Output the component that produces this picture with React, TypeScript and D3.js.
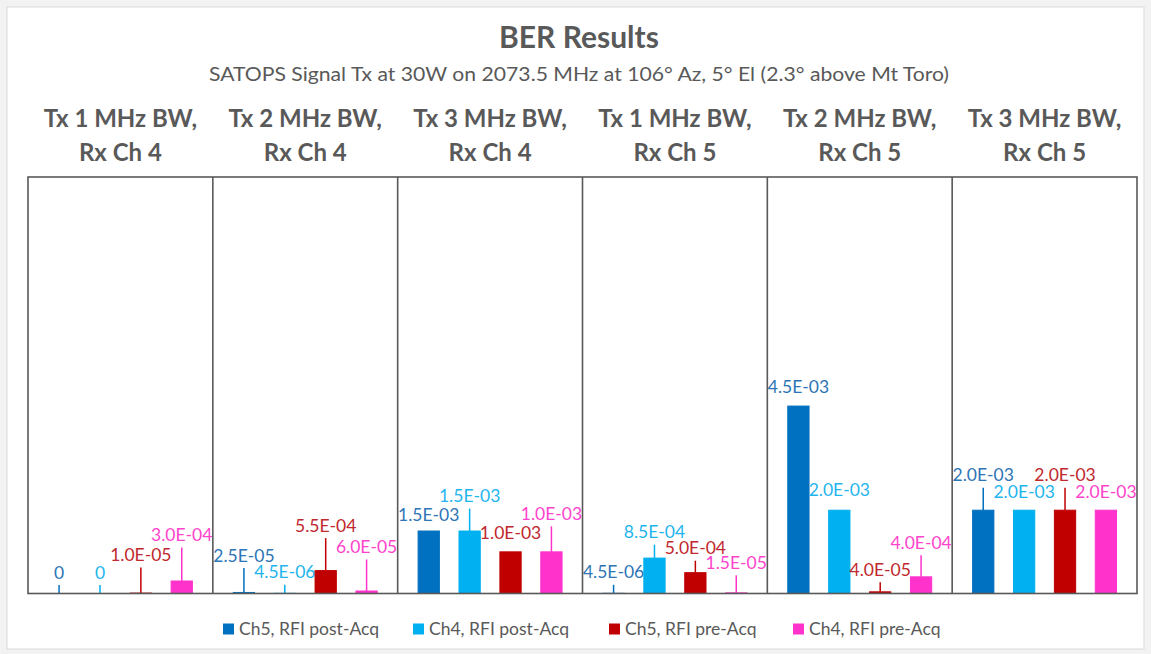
import React from "react";
import * as d3 from "d3";

const panels = [
  ["Tx 1 MHz BW,", "Rx Ch 4"],
  ["Tx 2 MHz BW,", "Rx Ch 4"],
  ["Tx 3 MHz BW,", "Rx Ch 4"],
  ["Tx 1 MHz BW,", "Rx Ch 5"],
  ["Tx 2 MHz BW,", "Rx Ch 5"],
  ["Tx 3 MHz BW,", "Rx Ch 5"],
];
const seriesNames = ["Ch5, RFI post-Acq", "Ch4, RFI post-Acq", "Ch5, RFI pre-Acq", "Ch4, RFI pre-Acq"];
const seriesColors = ["#0070C0", "#00B0F0", "#C00000", "#FF33CC"];
const labelColors = ["#2E75B6", "#1FB5EE", "#C0282D", "#FF44CC"];

// values per series, one entry per panel
const ch5Post = [0, 2.5e-5, 1.5e-3, 4.5e-6, 4.5e-3, 2.0e-3];
const ch4Post = [0, 4.5e-6, 1.5e-3, 8.5e-4, 2.0e-3, 2.0e-3];
const ch5Pre = [1.0e-5, 5.5e-4, 1.0e-3, 5.0e-4, 4.0e-5, 2.0e-3];
const ch4Pre = [3.0e-4, 6.0e-5, 1.0e-3, 1.5e-5, 4.0e-4, 2.0e-3];
const seriesValues = [ch5Post, ch4Post, ch5Pre, ch4Pre];

// label lift above bar top (px), per series per panel
const labelLift = [
  [21, 37, 16, 21, 19, 35],
  [21, 21, 35, 26, 20, 18],
  [38, 45, 19, 24.5, 22, 35],
  [46, 44, 38, 30, 34, 18],
];

const W = 1151;
const H = 654;
const plotL = 28, plotR = 1137, plotT = 177, plotB = 593.5;
const FONT = "Lato, 'Open Sans', sans-serif";

function fmt(v: number): string {
  if (v === 0) return "0";
  const e = Math.floor(Math.log10(v) + 1e-9);
  const m = v / Math.pow(10, e);
  const es = (e < 0 ? "-" : "+") + String(Math.abs(e)).padStart(2, "0");
  return m.toFixed(1) + "E" + es;
}

export default function App() {
  const xPanel = d3.scaleBand<number>().domain(d3.range(panels.length)).range([plotL, plotR]).padding(0);
  const xSeries = d3.scaleBand<number>().domain(d3.range(4)).range([0, xPanel.bandwidth()]).paddingInner(0.48).paddingOuter(0.5);
  const y = d3.scaleLinear().domain([0, 0.01]).range([plotB, plotT]);

  const legendX = [223, 413, 609, 793];

  return (
    <svg width={W} height={H} style={{ position: "absolute", left: 0, top: 0, background: "#fff" }} fontFamily={FONT}>
      <rect x={0} y={0} width={W} height={H} fill="#f2f2f2" />
      <rect x={7} y={7} width={1137} height={642} fill="#fff" stroke="#d9d9d9" strokeWidth={1} />
      <text x={579} y={48} textAnchor="middle" fontSize={30} fontWeight="bold" fill="#595959">BER Results</text>
      <text x={579} y={81} textAnchor="middle" fontSize={19.5} fill="#595959" textLength={740} lengthAdjust="spacingAndGlyphs">
        SATOPS Signal Tx at 30W on 2073.5 MHz at 106° Az, 5° El (2.3° above Mt Toro)
      </text>
      {panels.map((p, i) => {
        const cx = (xPanel(i) as number) + xPanel.bandwidth() / 2;
        return (
          <g key={"h" + i}>
            <text x={cx} y={127} textAnchor="middle" fontSize={24} fontWeight="bold" fill="#595959">{p[0]}</text>
            <text x={cx} y={161} textAnchor="middle" fontSize={24} fontWeight="bold" fill="#595959">{p[1]}</text>
          </g>
        );
      })}
      {/* bars */}
      {panels.map((_, i) => (
        <g key={"p" + i} transform={`translate(${xPanel(i)},0)`}>
          {seriesValues.map((vals, s) => {
            const v = vals[i];
            const bx = xSeries(s) as number;
            const bw = xSeries.bandwidth();
            const top = y(v);
            const cx = bx + bw / 2;
            const lift = labelLift[s][i];
            const labelY = top - lift;
            const leaderTop = labelY + 12.5;
            return (
              <g key={s}>
                {v > 0 && (
                  <rect x={bx} y={top} width={bw} height={plotB - top} fill={seriesColors[s]} stroke={seriesColors[s]} strokeWidth={1} />
                )}
                {top - leaderTop > 8 && (
                  <line x1={cx} x2={cx} y1={top} y2={leaderTop} stroke={seriesColors[s]} strokeWidth={1.5} />
                )}
                <text x={cx} y={labelY} dy="0.35em" textAnchor="middle" fontSize={17.5} fill={labelColors[s]}>{fmt(v)}</text>
              </g>
            );
          })}
        </g>
      ))}
      {/* plot frame and dividers */}
      <rect x={plotL} y={plotT} width={plotR - plotL} height={plotB - plotT} fill="none" stroke="#595959" strokeWidth={1.6} />
      {panels.slice(1).map((_, i) => (
        <line key={"d" + i} x1={xPanel(i + 1)} x2={xPanel(i + 1)} y1={plotT} y2={plotB} stroke="#595959" strokeWidth={1.6} />
      ))}
      {/* legend */}
      {seriesNames.map((n, s) => (
        <g key={"l" + s} transform={`translate(${legendX[s]},629)`}>
          <rect x={0} y={-5.5} width={11} height={11} fill={seriesColors[s]} />
          <text x={16} y={0} dy="0.35em" fontSize={17.5} fill="#595959">{n}</text>
        </g>
      ))}
    </svg>
  );
}
